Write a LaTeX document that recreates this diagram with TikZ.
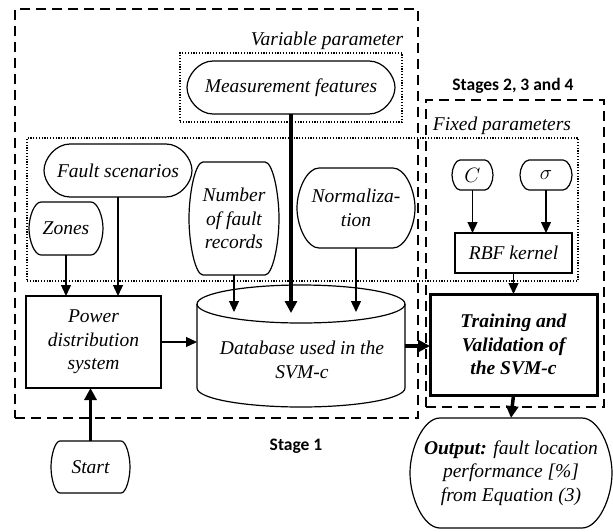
\documentclass[tikz,border=0pt]{standalone}
\usepackage{fontspec}
\setmainfont{Liberation Serif}
\newfontfamily\stagefont{Carlito}
\usetikzlibrary{arrows.meta,calc}
\newcommand\termborder[2]{%
  \draw[line width=1.2pt] let \p1=(#1.north west), \p2=(#1.south east), \p3=(#1.center) in
   ({\x1+#2pt},\y1) -- ({\x2-#2pt},\y1)
   .. controls ({\x2-0.45*#2pt},\y1) and (\x2,{\y1+0.55*(\y3-\y1)}) .. (\x2,\y3)
   .. controls (\x2,{\y2+0.55*(\y3-\y2)}) and ({\x2-0.45*#2pt},\y2) .. ({\x2-#2pt},\y2)
   -- ({\x1+#2pt},\y2)
   .. controls ({\x1+0.45*#2pt},\y2) and (\x1,{\y2+0.55*(\y3-\y2)}) .. (\x1,\y3)
   .. controls (\x1,{\y1+0.55*(\y3-\y1)}) and ({\x1+0.45*#2pt},\y1) .. ({\x1+#2pt},\y1) -- cycle;}
\begin{document}
\begin{tikzpicture}[x=1pt,y=-1pt,
  txt/.style={font=\fontsize{19.5}{23.5}\selectfont\itshape, align=center},
  rr/.style={txt, rectangle, inner sep=0pt, outer sep=0pt},
  bx/.style={txt, draw, line width=1.2pt, rectangle, inner sep=0pt, outer sep=0pt},
  stagebox/.style={draw, line width=2pt, dash pattern=on 10pt off 6pt, inner sep=0pt, outer sep=0pt},
  dotbox/.style={draw, line width=1.3pt, dash pattern=on 1.2pt off 1.6pt, inner sep=0pt, outer sep=0pt},
  conn/.style={line width=1.3pt, -{Triangle[length=11pt,width=10pt]}},
  thickconn/.style={line width=3.5pt, -{Triangle[length=12pt,width=12pt]}},
  stagelbl/.style={font=\fontsize{17.5}{20}\selectfont\stagefont\bfseries}
]
\useasboundingbox (0,0) rectangle (613,531);
% containers
\node[stagebox, minimum width=403, minimum height=409] (s1) at (216.5,213.5) {};
\node[stagebox, minimum width=178, minimum height=307] (s2) at (515,253.5) {};
\node[dotbox, minimum width=222, minimum height=69] (vp) at (291,87.5) {};
\node[dotbox, minimum width=551, minimum height=143] (fp) at (302.5,209.5) {};
% labels
\node[txt] (vpl) at (327,41) {Variable parameter};
\node[txt] (fpl) at (502,126) {Fixed parameters};
\node[stagelbl] (st1) at (296,446) {Stage 1};
\node[stagelbl] (st2) at (513,86) {Stages 2, 3 and 4};
% nodes
\node[rr, minimum width=208, minimum height=53] (meas) at (291,87.5) {Measurement features};
\termborder{meas}{26}
\node[rr, minimum width=148, minimum height=53] (fault) at (118,170.5) {Fault scenarios};
\termborder{fault}{26}
\node[rr, minimum width=74, minimum height=53] (zones) at (66,228.5) {Zones};
\termborder{zones}{12}
\node[rr, minimum width=90, minimum height=113] (num) at (234,218.5) {Number\\of fault\\records};
\termborder{num}{14}
\node[rr, minimum width=118, minimum height=80] (norm) at (356,208) {Normaliza-\\tion};
\termborder{norm}{22}
\node[rr, minimum width=41, minimum height=30] (c) at (472.5,175) {$C$};
\termborder{c}{8}
\node[rr, minimum width=52, minimum height=30] (sig) at (546,175) {$\sigma$};
\termborder{sig}{9}
\node[bx, minimum width=117, minimum height=40] (rbf) at (513.5,253) {RBF kernel};
\node[bx, line width=3pt, minimum width=167, minimum height=101, font=\fontsize{19.5}{23.5}\selectfont\itshape\bfseries] (train) at (513.5,344.5) {Training and\\Validation of\\the SVM-c};
\node[rr, minimum width=202, minimum height=110] (out) at (511,473) {\textbf{Output:} fault location\\performance [\%]\\from Equation (3)};
\termborder{out}{30}
\node[bx, minimum width=135, minimum height=92] (power) at (93.5,342) {Power\\distribution\\system};
\node[rr, minimum width=79, minimum height=52] (start) at (90.5,467) {Start};
\termborder{start}{9}
% database cylinder
\node[txt, minimum width=208, minimum height=122, inner sep=0pt, outer sep=0pt] (db) at (301,346) {};
\draw[line width=1.2pt] ([yshift=-19pt]db.north west) arc[start angle=180, end angle=0, x radius=104pt, y radius=19pt]
  -- ([yshift=19pt]db.south east) arc[start angle=0, end angle=-180, x radius=104pt, y radius=19pt] -- cycle;
\draw[line width=1.2pt] ([yshift=-19pt]db.north west) arc[start angle=180, end angle=360, x radius=104pt, y radius=19pt];
\node[txt] (dbt) at (302,360) {Database used in the\\SVM-c};
% connectors
\coordinate (numtip) at ($(num.south |- db.north)+(0,27)$);
\coordinate (normtip) at ($(norm.south |- db.north)+(0,27)$);
\coordinate (meastip) at ($(meas.south |- db.north)+(0,28)$);
\draw[conn] (zones.south) -- (zones.south |- power.north);
\draw[conn] (fault.south) -- (fault.south |- power.north);
\draw[conn] (num.south) -- (numtip);
\draw[conn] (norm.south) -- (normtip);
\draw[thickconn] (meas.south) -- (meastip);
\draw[conn] (power.east) -- (power.east -| db.west);
\draw[thickconn] (db.east) -- (db.east -| train.west);
\draw[thickconn] (start.north) -- (start.north |- power.south);
\draw[conn] (c.south) -- (c.south |- rbf.north);
\draw[conn] (sig.south) -- (sig.south |- rbf.north);
\draw[conn] (rbf.south) -- (train.north);
\draw[thickconn] (train.south) -- (out.north);
\end{tikzpicture}
\end{document}
